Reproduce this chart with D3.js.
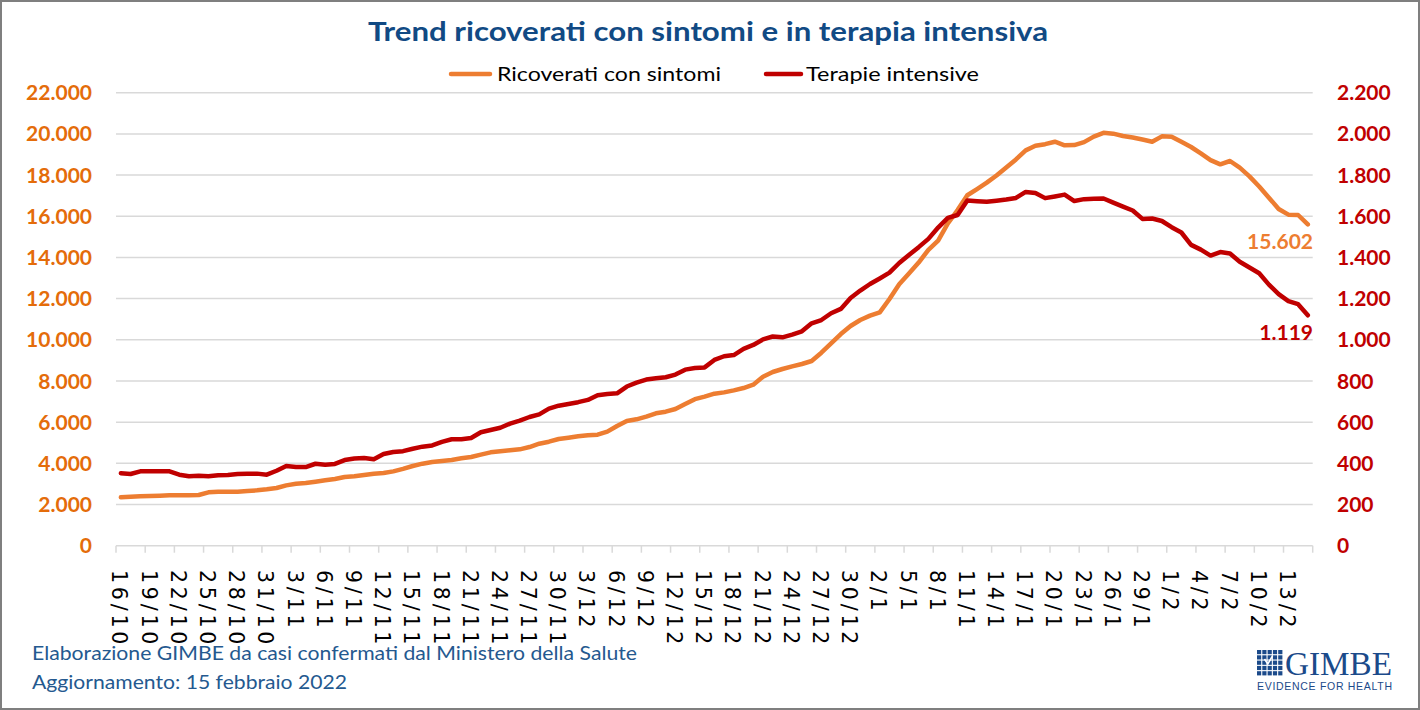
<!DOCTYPE html>
<html><head><meta charset="utf-8">
<script src="https://cdn.jsdelivr.net/npm/d3@7"></script>
<style>body{margin:0;background:#fff} svg{display:block}</style>
</head><body>
<svg id="chart" width="1420" height="710"></svg>
<script>
// ---------- DATA ----------
const startDate = "2021-10-16";
const endDate = "2022-02-15";
const seriesNames = ["Ricoverati con sintomi", "Terapie intensive"];
const ricoverati = [
 2349,2381,2397,2413,2430,2446,2446,2446,2462,2591,
 2623,2623,2623,2656,2688,2737,2801,2931,3012,3044,
 3109,3174,3238,3336,3368,3433,3497,3530,3611,3730,
 3871,3984,4065,4113,4162,4243,4307,4421,4534,4583,
 4631,4680,4793,4955,5052,5182,5246,5311,5360,5392,
 5538,5813,6056,6137,6266,6428,6509,6639,6882,7115,
 7237,7383,7447,7545,7658,7820,8209,8436,8582,8711,
 8824,8970,9374,9828,10281,10670,10961,11171,11333,11981,
 12700,13220,13750,14370,14820,15650,16300,17020,17320,17630,
 17980,18370,18760,19200,19420,19500,19620,19445,19455,19600,
 19865,20050,20010,19898,19825,19728,19621,19880,19856,19613,
 19363,19055,18723,18521,18683,18359,17938,17445,16903,16353,
 16077,16061,15602
];
const terapie = [
 352,348,361,362,362,361,345,337,340,337,
 342,343,348,350,350,345,364,387,382,382,
 398,393,397,416,423,426,420,445,455,459,
 471,481,487,504,517,517,523,551,562,573,
 593,607,625,638,666,680,688,697,708,731,
 737,740,773,792,807,813,818,831,855,863,
 866,902,920,926,956,975,1002,1016,1012,1025,
 1041,1080,1096,1129,1150,1203,1239,1271,1298,1326,
 1373,1412,1450,1490,1545,1592,1606,1677,1673,1670,
 1675,1681,1689,1718,1713,1688,1696,1705,1674,1683,
 1685,1686,1666,1647,1628,1587,1589,1577,1547,1521,
 1461,1438,1409,1426,1419,1379,1351,1323,1268,1222,
 1188,1173,1119
];
const leftTicks = [0,2000,4000,6000,8000,10000,12000,14000,16000,18000,20000,22000];
const rightTicks = [0,200,400,600,800,1000,1200,1400,1600,1800,2000,2200];
const xTickLabels = ["16/10","19/10","22/10","25/10","28/10","31/10","3/11","6/11","9/11","12/11",
 "15/11","18/11","21/11","24/11","27/11","30/11","3/12","6/12","9/12","12/12","15/12","18/12",
 "21/12","24/12","27/12","30/12","2/1","5/1","8/1","11/1","14/1","17/1","20/1","23/1","26/1",
 "29/1","1/2","4/2","7/2","10/2","13/2"];
const titleText = "Trend ricoverati con sintomi e in terapia intensiva";
const footerLines = ["Elaborazione GIMBE da casi confermati dal Ministero della Salute",
                     "Aggiornamento: 15 febbraio 2022"];

// ---------- SETUP ----------
const parse = d3.timeParse("%Y-%m-%d");
const dates = d3.timeDay.range(parse(startDate), d3.timeDay.offset(parse(endDate), 1));
const idx = d3.range(dates.length);

const svg = d3.select("#chart");
const W = 1420, H = 710;
const plot = {left: 116, right: 1312.7, top: 92.7, bottom: 545.7};
const ORANGE = "#ED7D31", RED = "#C00000", ORANGE_TXT = "#E46C0A";
const GRID = "#D9D9D9";
const BLUE = "#114A84";

const it = d3.formatLocale({decimal: ",", thousands: ".", grouping: [3], currency: ["€", ""]});
const fmt = it.format(",d");

svg.append("rect").attr("x", 1).attr("y", 1).attr("width", W - 2).attr("height", H - 2)
  .attr("fill", "#fff").attr("stroke", "#7F7F7F").attr("stroke-width", 2);

const x = d3.scaleBand().domain(idx).range([plot.left, plot.right]).paddingInner(0).paddingOuter(0);
const bw = x.bandwidth();
const cx = i => x(i) + bw / 2;
const yL = d3.scaleLinear().domain([0, 22000]).range([plot.bottom, plot.top]);
const yR = d3.scaleLinear().domain([0, 2200]).range([plot.bottom, plot.top]);

// gridlines
svg.append("g").selectAll("line").data(leftTicks.slice(1)).join("line")
  .attr("x1", plot.left).attr("x2", plot.right)
  .attr("y1", d => yL(d)).attr("y2", d => yL(d))
  .attr("stroke", GRID).attr("stroke-width", 1.5);

// x axis line + ticks
const xa = svg.append("g");
xa.append("line").attr("x1", plot.left).attr("x2", plot.right)
  .attr("y1", plot.bottom).attr("y2", plot.bottom).attr("stroke", GRID).attr("stroke-width", 1.5);
const tickPos = idx.filter(i => i % 3 === 0).map(i => x(i)).concat([plot.right]);
xa.selectAll("line.t").data(tickPos).join("line").attr("class", "t")
  .attr("x1", d => d).attr("x2", d => d).attr("y1", plot.bottom).attr("y2", plot.bottom + 7)
  .attr("stroke", GRID).attr("stroke-width", 1.5);
xa.selectAll("text").data(xTickLabels).join("text")
  .attr("transform", (d, k) => `translate(${cx(k * 3) - 1},${570}) rotate(90)`)
  .attr("dy", "0.36em")
  .attr("font-family", "DejaVu Sans").attr("font-size", 20.5).attr("letter-spacing", 3.8)
  .attr("fill", "#000").text(d => d);

// y axis labels
svg.append("g").selectAll("text").data(leftTicks).join("text")
  .attr("x", 92).attr("y", d => yL(d)).attr("dy", "0.36em").attr("text-anchor", "end")
  .attr("font-family", "Lato").attr("font-weight", 700).attr("font-size", 21)
  .attr("fill", ORANGE_TXT).text(d => fmt(d));
svg.append("g").selectAll("text").data(rightTicks).join("text")
  .attr("x", 1337).attr("y", d => yR(d)).attr("dy", "0.36em").attr("text-anchor", "start")
  .attr("font-family", "Lato").attr("font-weight", 700).attr("font-size", 21)
  .attr("fill", RED).text(d => fmt(d));

// lines
const lineL = d3.line().x((d, i) => cx(i)).y(d => yL(d));
const lineR = d3.line().x((d, i) => cx(i)).y(d => yR(d));
svg.append("path").datum(ricoverati).attr("d", lineL).attr("fill", "none")
  .attr("stroke", ORANGE).attr("stroke-width", 4.5).attr("stroke-linejoin", "round").attr("stroke-linecap", "round");
svg.append("path").datum(terapie).attr("d", lineR).attr("fill", "none")
  .attr("stroke", RED).attr("stroke-width", 4.5).attr("stroke-linejoin", "round").attr("stroke-linecap", "round");

// end labels
const last = dates.length - 1;
svg.append("text").attr("x", 1313).attr("y", yL(ricoverati[last]) + 17).attr("dy", "0.36em")
  .attr("text-anchor", "end").attr("font-family", "Lato").attr("font-weight", 700).attr("font-size", 21)
  .attr("fill", ORANGE).text(fmt(ricoverati[last]));
svg.append("text").attr("x", 1313).attr("y", yR(terapie[last]) + 17).attr("dy", "0.36em")
  .attr("text-anchor", "end").attr("font-family", "Lato").attr("font-weight", 700).attr("font-size", 21)
  .attr("fill", RED).text(fmt(terapie[last]));

// title
svg.append("text").attr("x", 368).attr("y", 41).attr("font-family", "Lato").attr("font-weight", 700)
  .attr("font-size", 27).attr("fill", BLUE).attr("textLength", 680).attr("lengthAdjust", "spacingAndGlyphs")
  .text(titleText);

// legend
const leg = [{name: seriesNames[0], color: ORANGE, x1: 451, x2: 490, tx: 497, tw: 224},
             {name: seriesNames[1], color: RED, x1: 766, x2: 801, tx: 806, tw: 173}];
leg.forEach(l => {
  svg.append("line").attr("x1", l.x1).attr("x2", l.x2).attr("y1", 74).attr("y2", 74)
    .attr("stroke", l.color).attr("stroke-width", 4.5).attr("stroke-linecap", "round");
  svg.append("text").attr("x", l.tx).attr("y", 74).attr("dy", "0.36em")
    .attr("font-family", "Lato").attr("font-size", 20).attr("fill", "#000")
    .attr("textLength", l.tw).attr("lengthAdjust", "spacingAndGlyphs").text(l.name);
});

// footer
svg.append("text").attr("x", 32).attr("y", 653).attr("dy", "0.36em").attr("font-family", "Lato")
  .attr("font-size", 19).attr("fill", "#24598F").attr("textLength", 605).attr("lengthAdjust", "spacingAndGlyphs")
  .text(footerLines[0]);
svg.append("text").attr("x", 32).attr("y", 682).attr("dy", "0.36em").attr("font-family", "Lato")
  .attr("font-size", 19).attr("fill", "#24598F").attr("textLength", 315).attr("lengthAdjust", "spacingAndGlyphs")
  .text(footerLines[1]);

// GIMBE logo
const LOGO = "#1B4A8A";
const lg = svg.append("g");
const cell = 4.2, gap = 1.1;
for (let r = 0; r < 5; r++) for (let c = 0; c < 5; c++) {
  lg.append("rect").attr("x", 1257 + c * (cell + gap)).attr("y", 650 + r * (cell + gap))
    .attr("width", cell).attr("height", cell).attr("fill", LOGO);
}
lg.append("path").attr("d", "M1264.5,659 L1267.8,664 L1272.5,656").attr("fill", "none")
  .attr("stroke", "#fff").attr("stroke-width", 1.6);
lg.append("text").attr("x", 1285).attr("y", 675).attr("font-family", "Liberation Serif")
  .attr("font-size", 34).attr("fill", LOGO).attr("textLength", 107).attr("lengthAdjust", "spacingAndGlyphs")
  .text("GIMBE");
lg.append("text").attr("x", 1257).attr("y", 690).attr("font-family", "Liberation Sans")
  .attr("font-size", 10.5).attr("fill", LOGO).attr("textLength", 135).attr("lengthAdjust", "spacing")
  .text("EVIDENCE FOR HEALTH");
</script>
</body></html>
